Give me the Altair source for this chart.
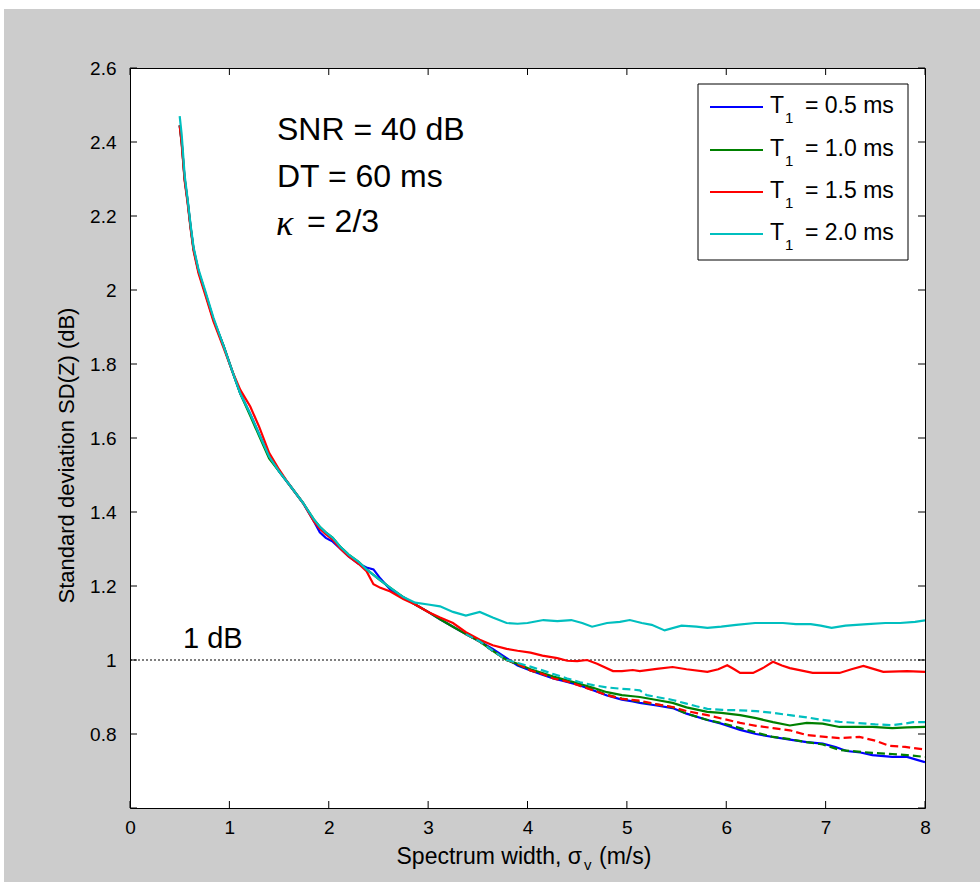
import altair as alt
import pandas as pd

# ---------------------------------------------------------------- data
SERIES = ["T1 = 0.5 ms", "T1 = 1.0 ms", "T1 = 1.5 ms", "T1 = 2.0 ms"]
T1_VALUES = ["0.5", "1.0", "1.5", "2.0"]
COLORS = ["#0000ff", "#008000", "#ff0000", "#00bfbf"]

X_TICKS = [0, 1, 2, 3, 4, 5, 6, 7, 8]
Y_TICKS = [0.6, 0.8, 1.0, 1.2, 1.4, 1.6, 1.8, 2.0, 2.2, 2.4, 2.6]
Y_LABELLED = [0.8, 1.0, 1.2, 1.4, 1.6, 1.8, 2.0, 2.2, 2.4, 2.6]

NOTE_LINES = ["SNR = 40 dB", "DT = 60 ms"]
KAPPA_SYMBOL = "κ"
KAPPA_VALUE = "= 2/3"
REF_LEVEL = 1.0
REF_LABEL = "1 dB"
X_TITLE_MAIN = "Spectrum width, σ"
X_TITLE_SUB = "v"
X_TITLE_UNIT = "(m/s)"
Y_TITLE = "Standard deviation SD(Z) (dB)"

# common abscissa of the steep part of the curves (m/s)
X_HEAD = [0.50, 0.52, 0.55, 0.58, 0.61, 0.64, 0.69, 0.76, 0.84, 0.94,
          1.03, 1.11, 1.21, 1.30, 1.40, 1.50, 1.60, 1.74, 1.85, 1.91,
          1.97, 2.04, 2.12, 2.20, 2.30, 2.38, 2.45, 2.52, 2.62, 2.75,
          2.87, 3.00, 3.12, 3.25, 3.38, 3.52, 3.65, 3.79]

# T1 = 0.5 ms
BLUE_HEAD = [2.445, 2.400, 2.300, 2.240, 2.170, 2.110, 2.050, 1.990, 1.920, 1.850,
             1.780, 1.720, 1.665, 1.610, 1.550, 1.510, 1.475, 1.425, 1.375, 1.345,
             1.330, 1.320, 1.300, 1.280, 1.260, 1.250, 1.245, 1.220, 1.190, 1.170,
             1.150, 1.130, 1.110, 1.090, 1.070, 1.050, 1.030, 1.005]
BLUE_TAIL_X = [3.90, 4.03, 4.15, 4.26, 4.40, 4.53, 4.66, 4.80, 4.95, 5.06,
               5.13, 5.30, 5.46, 5.60, 5.81, 5.95, 6.14, 6.30, 6.47, 6.64,
               6.81, 6.97, 7.10, 7.21, 7.35, 7.47, 7.67, 7.82, 7.92, 8.00]
BLUE_TAIL = [0.985, 0.972, 0.960, 0.950, 0.941, 0.931, 0.918, 0.904, 0.893, 0.888,
             0.884, 0.877, 0.870, 0.855, 0.838, 0.828, 0.811, 0.800, 0.792, 0.785,
             0.778, 0.774, 0.765, 0.754, 0.750, 0.743, 0.738, 0.738, 0.730, 0.724]

# T1 = 1.0 ms
GREEN_HEAD = [2.445, 2.400, 2.300, 2.240, 2.170, 2.110, 2.050, 1.990, 1.920, 1.850,
              1.780, 1.720, 1.660, 1.605, 1.545, 1.510, 1.475, 1.425, 1.380, 1.360,
              1.345, 1.330, 1.305, 1.285, 1.265, 1.245, 1.230, 1.215, 1.195, 1.170,
              1.150, 1.130, 1.110, 1.090, 1.070, 1.050, 1.025, 1.000]
GREEN_TAIL_X = [3.90, 4.03, 4.15, 4.26, 4.40, 4.53, 4.66, 4.80, 4.95, 5.06,
                5.13, 5.30, 5.46, 5.60, 5.81, 5.95, 6.14, 6.30, 6.47, 6.64,
                6.81, 6.97, 7.14, 7.30, 7.47, 7.67, 7.82, 8.00]
GREEN_TAIL = [0.990, 0.975, 0.965, 0.955, 0.945, 0.935, 0.925, 0.913, 0.905, 0.902,
              0.900, 0.892, 0.884, 0.872, 0.860, 0.857, 0.851, 0.843, 0.832, 0.823,
              0.830, 0.828, 0.819, 0.819, 0.819, 0.816, 0.818, 0.819]

# T1 = 1.5 ms
RED_HEAD = [2.445, 2.395, 2.295, 2.235, 2.165, 2.105, 2.045, 1.985, 1.915, 1.845,
            1.780, 1.730, 1.685, 1.630, 1.560, 1.515, 1.475, 1.425, 1.375, 1.355,
            1.340, 1.325, 1.300, 1.280, 1.260, 1.240, 1.205, 1.195, 1.185, 1.165,
            1.150, 1.130, 1.115, 1.100, 1.075, 1.055, 1.040, 1.030]
RED_TAIL_X = [3.90, 4.03, 4.15, 4.30, 4.40, 4.50, 4.60, 4.70, 4.86, 4.95,
              5.06, 5.13, 5.30, 5.46, 5.60, 5.81, 5.92, 6.01, 6.08, 6.14,
              6.27, 6.38, 6.47, 6.56, 6.64, 6.87, 7.14, 7.26, 7.38, 7.48,
              7.58, 7.82, 8.00]
RED_TAIL = [1.025, 1.020, 1.012, 1.005, 0.998, 0.997, 1.000, 0.990, 0.970, 0.970,
            0.973, 0.970, 0.976, 0.981, 0.975, 0.968, 0.975, 0.986, 0.975, 0.965,
            0.965, 0.980, 0.995, 0.985, 0.978, 0.965, 0.965, 0.975, 0.984, 0.976,
            0.968, 0.970, 0.968]

# T1 = 2.0 ms
CYAN_HEAD = [2.470, 2.420, 2.310, 2.245, 2.175, 2.115, 2.055, 1.995, 1.925, 1.850,
             1.780, 1.720, 1.665, 1.610, 1.550, 1.510, 1.475, 1.425, 1.380, 1.360,
             1.345, 1.330, 1.305, 1.285, 1.265, 1.245, 1.230, 1.215, 1.195, 1.170,
             1.155, 1.150, 1.145, 1.130, 1.120, 1.130, 1.115, 1.100]
CYAN_TAIL_X = [3.90, 4.00, 4.16, 4.30, 4.44, 4.55, 4.65, 4.80, 4.93, 5.03,
               5.15, 5.25, 5.38, 5.55, 5.70, 5.81, 5.95, 6.10, 6.29, 6.45,
               6.57, 6.70, 6.85, 6.95, 7.06, 7.20, 7.42, 7.60, 7.75, 7.90, 8.00]
CYAN_TAIL = [1.098, 1.100, 1.108, 1.105, 1.108, 1.100, 1.090, 1.100, 1.103, 1.108,
             1.100, 1.095, 1.080, 1.093, 1.090, 1.087, 1.090, 1.095, 1.100, 1.100,
             1.100, 1.097, 1.097, 1.093, 1.087, 1.093, 1.097, 1.100, 1.100, 1.103, 1.107]

# dashed companions of the 1.0, 1.5 and 2.0 ms runs
GREEN_DASH_X = [3.38, 3.52, 3.65, 3.79, 3.90, 4.03, 4.15, 4.26, 4.40, 4.53,
                4.66, 4.80, 4.95, 5.13, 5.30, 5.46, 5.60, 5.81, 5.95, 6.14,
                6.30, 6.47, 6.64, 6.81, 6.97, 7.14, 7.30, 7.47, 7.67, 7.82, 8.00]
GREEN_DASH = [1.070, 1.050, 1.025, 1.000, 0.988, 0.972, 0.962, 0.952, 0.943, 0.933,
              0.920, 0.906, 0.896, 0.887, 0.880, 0.872, 0.855, 0.838, 0.830, 0.816,
              0.804, 0.792, 0.786, 0.778, 0.772, 0.757, 0.753, 0.749, 0.746, 0.743, 0.738]
RED_DASH_X = [3.38, 3.52, 3.65, 3.79, 3.90, 4.03, 4.15, 4.26, 4.40, 4.53,
              4.66, 4.80, 4.95, 5.13, 5.30, 5.46, 5.60, 5.81, 5.95, 6.14,
              6.30, 6.47, 6.64, 6.81, 6.97, 7.14, 7.34, 7.50, 7.64, 7.80, 8.00]
RED_DASH = [1.070, 1.050, 1.025, 1.000, 0.990, 0.972, 0.962, 0.950, 0.942, 0.930,
            0.918, 0.905, 0.895, 0.890, 0.880, 0.873, 0.862, 0.851, 0.842, 0.830,
            0.822, 0.816, 0.810, 0.797, 0.793, 0.789, 0.792, 0.782, 0.768, 0.765, 0.758]
CYAN_DASH_X = [3.38, 3.52, 3.65, 3.79, 3.90, 4.03, 4.15, 4.26, 4.40, 4.53,
               4.66, 4.80, 4.95, 5.06, 5.13, 5.20, 5.30, 5.46, 5.60, 5.70,
               5.81, 5.96, 6.14, 6.30, 6.47, 6.64, 6.81, 6.97, 7.14, 7.31,
               7.50, 7.67, 7.80, 7.88, 8.00]
CYAN_DASH = [1.070, 1.050, 1.025, 1.000, 0.992, 0.982, 0.972, 0.962, 0.950, 0.940,
             0.932, 0.926, 0.922, 0.920, 0.918, 0.905, 0.900, 0.892, 0.882, 0.875,
             0.868, 0.865, 0.864, 0.862, 0.857, 0.851, 0.845, 0.838, 0.833, 0.830,
             0.826, 0.824, 0.828, 0.832, 0.832]

# ---------------------------------------------------------------- styling
W, H = 795, 740
SANS = "Liberation Sans, Arial, sans-serif"
SERIF = "Liberation Serif, Times New Roman, serif"

x_scale = alt.Scale(domain=[0, 8], nice=False, zero=False)
y_scale = alt.Scale(domain=[0.6, 2.6], nice=False, zero=False)
color_scale = alt.Scale(domain=SERIES, range=COLORS)

x_axis = alt.Axis(values=X_TICKS, ticks=False, tickSize=0, domain=False, grid=False,
                  labelFont=SANS, labelFontSize=19, labelColor="black",
                  labelPadding=10, labelFlush=False, title=None)
y_axis = alt.Axis(values=Y_LABELLED, format="~g", ticks=False, tickSize=0, domain=False,
                  grid=False, labelFont=SANS, labelFontSize=19, labelColor="black",
                  labelPadding=14, labelFlush=False,
                  title=Y_TITLE, titleFont=SANS, titleFontSize=22,
                  titleFontWeight="normal", titleColor="black",
                  titleX=-64, titleY=387, titleAngle=-90,
                  titleAlign="center", titleBaseline="middle")

X = alt.X("x:Q", scale=x_scale, axis=x_axis)
Y = alt.Y("y:Q", scale=y_scale, axis=y_axis)


def curve(xs, ys, name, dashed=False):
    df = pd.DataFrame({"x": xs, "y": ys, "series": name})
    props = dict(strokeWidth=2.2, clip=True)
    if dashed:
        props["strokeDash"] = [8, 4]
    return alt.Chart(df).mark_line(**props).encode(
        x=X, y=Y,
        color=alt.Color("series:N", scale=color_scale, legend=None),
    )


layers = [
    curve(X_HEAD + BLUE_TAIL_X, BLUE_HEAD + BLUE_TAIL, SERIES[0]),
    curve(X_HEAD + GREEN_TAIL_X, GREEN_HEAD + GREEN_TAIL, SERIES[1]),
    curve(X_HEAD + RED_TAIL_X, RED_HEAD + RED_TAIL, SERIES[2]),
    curve(X_HEAD + CYAN_TAIL_X, CYAN_HEAD + CYAN_TAIL, SERIES[3]),
    curve(GREEN_DASH_X, GREEN_DASH, SERIES[1], dashed=True),
    curve(RED_DASH_X, RED_DASH, SERIES[2], dashed=True),
    curve(CYAN_DASH_X, CYAN_DASH, SERIES[3], dashed=True),
]

# 1 dB reference line and its label
ref_df = pd.DataFrame({"x": [0], "x2": [8], "y": [REF_LEVEL]})
ref_line = alt.Chart(ref_df).mark_rule(color="black", strokeWidth=1, strokeDash=[2, 2]).encode(
    x=X, x2="x2:Q", y=Y)


def label(text, x, y, size, font=SANS, align="left", style="normal"):
    return alt.Chart(pd.DataFrame({"t": [text]})).mark_text(
        font=font, fontSize=size, fontStyle=style, align=align,
        baseline="middle", color="black").encode(
        text="t:N", x=alt.value(x), y=alt.value(y))


ref_text = label(REF_LABEL, 53, 571, 29)

# inward ticks on all four sides of the box
xt = pd.DataFrame({"x": X_TICKS})
yt = pd.DataFrame({"y": Y_TICKS})
tick_style = dict(color="black", strokeWidth=1)
ticks = [
    alt.Chart(xt).mark_rule(**tick_style).encode(x=X, y=alt.value(H), y2=alt.value(H - 7)),
    alt.Chart(xt).mark_rule(**tick_style).encode(x=X, y=alt.value(0), y2=alt.value(7)),
    alt.Chart(yt).mark_rule(**tick_style).encode(y=Y, x=alt.value(0), x2=alt.value(7)),
    alt.Chart(yt).mark_rule(**tick_style).encode(y=Y, x=alt.value(W), x2=alt.value(W - 7)),
]

# parameter block in the upper left
notes = [label(line, 147, 62 + 47 * i, 32) for i, line in enumerate(NOTE_LINES)]
notes.append(label(KAPPA_SYMBOL, 146, 156, 36, font=SERIF, style="italic"))
notes.append(label(KAPPA_VALUE, 177, 154, 32))

# x-axis title with subscripted sigma
xt_parts = [
    label(X_TITLE_MAIN, 452, 789, 23, align="right"),
    label(X_TITLE_SUB, 454, 797, 15),
    label(X_TITLE_UNIT, 469, 789, 23),
]

# boxed legend in the upper right corner
LEG_LEFT, LEG_TOP, LEG_RIGHT, LEG_BOTTOM = 568, 16, 778, 192
ROW_Y = [39, 82, 124, 166]
legend_box = alt.Chart(pd.DataFrame({"k": [0]})).mark_rect(
    fill="white", stroke="black", strokeWidth=1).encode(
    x=alt.value(LEG_LEFT), x2=alt.value(LEG_RIGHT),
    y=alt.value(LEG_TOP), y2=alt.value(LEG_BOTTOM))
legend_parts = [legend_box]
for name, value, color, ry in zip(SERIES, T1_VALUES, COLORS, ROW_Y):
    legend_parts.append(
        alt.Chart(pd.DataFrame({"series": [name]})).mark_rule(strokeWidth=2.2).encode(
            color=alt.Color("series:N", scale=color_scale, legend=None),
            x=alt.value(580), x2=alt.value(633), y=alt.value(ry)))
    legend_parts.append(label("T", 640, ry - 1, 23))
    legend_parts.append(label("1", 655, ry + 11, 15))
    legend_parts.append(label("= " + value + " ms", 675, ry - 1, 23))

# thin white border along the top and left edges of the figure
edge = [
    alt.Chart(pd.DataFrame({"k": [0]})).mark_rect(color="white").encode(
        x=alt.value(-130), x2=alt.value(W + 55), y=alt.value(-68), y2=alt.value(-59)),
    alt.Chart(pd.DataFrame({"k": [0]})).mark_rect(color="white").encode(
        x=alt.value(-130), x2=alt.value(-126), y=alt.value(-68), y2=alt.value(H + 74)),
]

chart = alt.layer(*edge, ref_line, *layers, *ticks, ref_text, *notes, *xt_parts,
                  *legend_parts).properties(
    width=W, height=H,
    autosize=alt.AutoSizeParams(type="none"),
    padding={"left": 130, "top": 68, "right": 55, "bottom": 74},
    background="#cccccc",
).configure_view(
    fill="white", stroke="black", strokeWidth=1,
)

chart.save("out.html", embed_options={"renderer": "svg", "actions": False})
